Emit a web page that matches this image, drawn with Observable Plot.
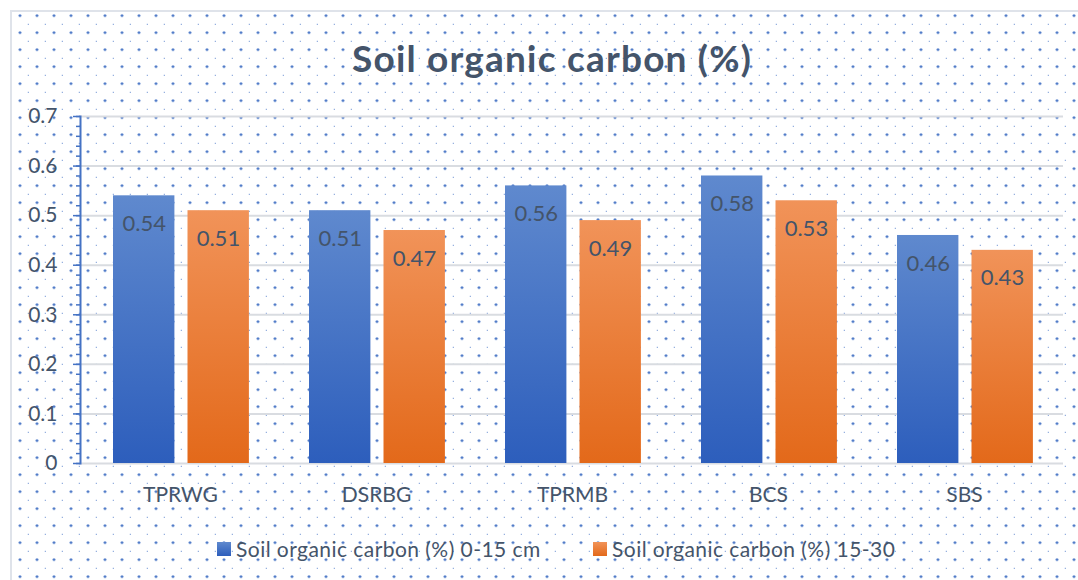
<!DOCTYPE html>
<html><head><meta charset="utf-8">
<script src="https://cdn.jsdelivr.net/npm/d3@7"></script>
<script src="https://cdn.jsdelivr.net/npm/@observablehq/plot@0.6"></script>
<style>
html,body{margin:0;padding:0;background:#fff;}
#chart{position:relative;width:1078px;height:580px;overflow:hidden;font-family:Lato,sans-serif;color:#44546a;background:#fff;}
#frame{position:absolute;left:10px;top:10px;width:1090px;height:600px;border-left:2px solid #dfe3ea;border-top:2px solid #dfe3ea;
  background:
   radial-gradient(circle, #4472c4 1.0px, rgba(68,114,196,0) 1.5px) 16.5px 12.2px / 17px 17px,
   radial-gradient(circle, #5a82cc 0.55px, rgba(68,114,196,0) 1.0px) 7.8px 3.8px / 17px 17px;}
#title{position:absolute;left:352px;top:35.5px;line-height:1.2;font-weight:bold;font-size:37px;letter-spacing:1.2px;color:#44546a;white-space:nowrap;}
#plot{position:absolute;left:0;top:0;}
#legend{position:absolute;top:536px;left:0;width:1078px;font-size:21px;letter-spacing:0.45px;color:#44546a;}
.li{position:absolute;display:flex;align-items:center;white-space:nowrap;line-height:25px;}
.sw{width:14px;height:14px;margin-right:5px;}
</style>
</head><body>
<svg width="0" height="0" style="position:absolute">
  <defs>
    <linearGradient id="gBlue" x1="0" y1="0" x2="0" y2="1">
      <stop offset="0" stop-color="#5f89ce"/>
      <stop offset="1" stop-color="#2d5ebc"/>
    </linearGradient>
    <linearGradient id="gOrange" x1="0" y1="0" x2="0" y2="1">
      <stop offset="0" stop-color="#f19359"/>
      <stop offset="1" stop-color="#e3691a"/>
    </linearGradient>
  </defs>
</svg>
<div id="chart">
  <div id="frame"></div>
  <div id="title">Soil organic carbon (%)</div>
  <div id="plot"></div>
  <div id="legend"></div>
</div>
<script>
const categories = ["TPRWG", "DSRBG", "TPRMB", "BCS", "SBS"];
const seriesNames = ["Soil organic carbon (%) 0-15 cm", "Soil organic carbon (%) 15-30"];
const soc0_15 = [0.54, 0.51, 0.56, 0.58, 0.46];
const soc15_30 = [0.51, 0.47, 0.49, 0.53, 0.43];
const yTicks = [0, 0.1, 0.2, 0.3, 0.4, 0.5, 0.6, 0.7];
const yMinorTicks = d3.range(0, 36).map(i => +(i * 0.02).toFixed(2));

const rowsA = categories.map((c, i) => ({cat: c, value: soc0_15[i]}));
const rowsB = categories.map((c, i) => ({cat: c, value: soc15_30[i]}));

const textColor = "#44546a";
const axisBlue = "#4472c4";

const chart = Plot.plot({
  width: 1078,
  height: 580,
  marginLeft: 80,
  marginRight: 15,
  marginTop: 116,
  marginBottom: 117,
  style: {background: "transparent", fontFamily: "Lato, sans-serif", color: textColor, overflow: "visible"},
  x: {domain: categories, padding: 0, label: null},
  y: {domain: [0, 0.7], label: null},
  marks: [
    Plot.gridY(yTicks, {stroke: "#d9dce1", strokeOpacity: 1, strokeWidth: 2}),
    Plot.barY(rowsA, {x: "cat", y: "value", fill: "url(#gBlue)", insetLeft: 31, insetRight: 103.6}),
    Plot.barY(rowsB, {x: "cat", y: "value", fill: "url(#gOrange)", insetLeft: 105.5, insetRight: 29.1}),
    Plot.text(rowsA, {x: "cat", y: "value", text: d => d.value.toFixed(2), dx: -36.3, dy: 28, fontSize: 22, fill: textColor}),
    Plot.text(rowsB, {x: "cat", y: "value", text: d => d.value.toFixed(2), dx: 37.9, dy: 28, fontSize: 22, fill: textColor}),
    Plot.axisY(yMinorTicks, {tickSize: 4, stroke: axisBlue, strokeWidth: 1.5, tickFormat: () => ""}),
    Plot.axisY(yTicks, {tickSize: 7, tickPadding: 16, stroke: axisBlue, strokeWidth: 1.5, fontSize: 21, fill: textColor, tickFormat: d => String(d)}),
    Plot.frame({anchor: "left", stroke: axisBlue, strokeWidth: 2}),
    Plot.axisX({tickSize: 0, tickPadding: 24, fontSize: 21, fill: textColor})
  ]
});
document.getElementById("plot").appendChild(chart);

const legend = document.getElementById("legend");
const legendItems = [
  {name: seriesNames[0], fill: "linear-gradient(#5f89ce,#2d5ebc)", left: 217},
  {name: seriesNames[1], fill: "linear-gradient(#f19359,#e3691a)", left: 593}
];
legendItems.forEach(it => {
  const el = document.createElement("div");
  el.className = "li";
  el.style.left = it.left + "px";
  el.innerHTML = `<span class="sw" style="background:${it.fill}"></span><span>${it.name}</span>`;
  legend.appendChild(el);
});
</script>
</body></html>
